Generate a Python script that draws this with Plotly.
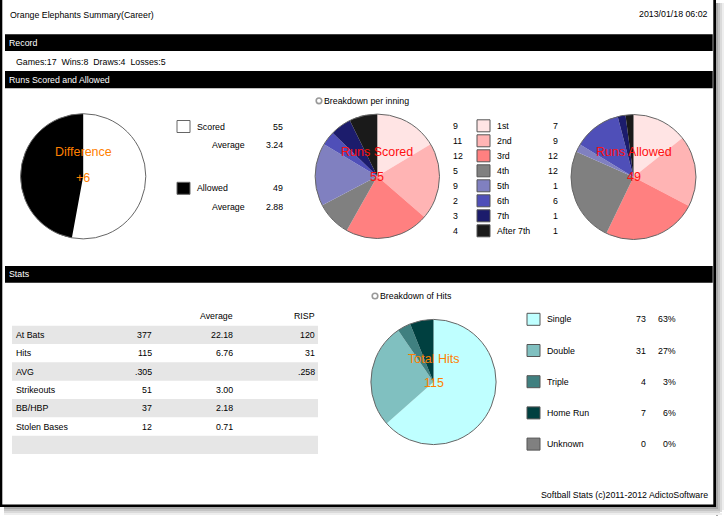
import plotly.graph_objects as go

# ---------------- data ----------------
title_text = "Orange Elephants Summary(Career)"
date_text = "2013/01/18 06:02"
footer_text = "Softball Stats (c)2011-2012 AdictoSoftware"
section_titles = ["Record", "Runs Scored and Allowed", "Stats"]

record_labels = ["Games", "Wins", "Draws", "Losses"]
record_values = [17, 8, 4, 5]

runs_labels = ["Scored", "Allowed"]
runs_totals = [55, 49]
runs_averages = ["3.24", "2.88"]
runs_colors = ["#FFFFFF", "#000000"]

innings = ["1st", "2nd", "3rd", "4th", "5th", "6th", "7th", "After 7th"]
scored_by_inning = [9, 11, 12, 5, 9, 2, 3, 4]
allowed_by_inning = [7, 9, 12, 12, 1, 6, 1, 1]
inning_colors = ["#FFE4E4", "#FFB4B4", "#FF8080", "#808080",
                 "#8080C0", "#4F4FB8", "#1C1C6C", "#1A1A1A"]

stat_names = ["At Bats", "Hits", "AVG", "Strikeouts", "BB/HBP", "Stolen Bases"]
stat_totals = ["377", "115", ".305", "51", "37", "12"]
stat_averages = ["22.18", "6.76", "", "3.00", "2.18", "0.71"]
stat_risp = ["120", "31", ".258", "", "", ""]

hit_types = ["Single", "Double", "Triple", "Home Run", "Unknown"]
hit_counts = [73, 31, 4, 7, 0]
hit_pcts = ["63%", "27%", "3%", "6%", "0%"]
hit_colors = ["#BFFFFF", "#80C0C0", "#408080", "#004040", "#808080"]

# ---------------- layout helpers ----------------
W, H = 725, 516
FONT = "Liberation Sans, Arial, Helvetica, sans-serif"
FS = 8.8
shapes = []
annots = []


def text(x, y, s, anchor="left", size=FS, color="#000000"):
    annots.append(dict(x=x, y=y, xref="x", yref="y", text=s, showarrow=False,
                       xanchor=anchor, yanchor="middle", borderpad=0,
                       font=dict(family=FONT, size=size, color=color)))


def rect(x0, y0, x1, y1, fill, line=None, lw=0, layer="below"):
    shapes.append(dict(type="rect", xref="x", yref="y", x0=x0, y0=y0, x1=x1, y1=y1,
                       fillcolor=fill, line=dict(width=lw, color=line or fill), layer=layer))


def circle(cx, cy, r, color="#555555", lw=1, fill="rgba(0,0,0,0)"):
    shapes.append(dict(type="circle", xref="x", yref="y", x0=cx - r, y0=cy - r,
                       x1=cx + r, y1=cy + r, fillcolor=fill,
                       line=dict(width=lw, color=color), layer="above"))


def dom(cx, cy, r):
    return dict(x=[(cx - r) / W, (cx + r) / W], y=[1 - (cy + r) / H, 1 - (cy - r) / H])


fig = go.Figure()

# frame + shadow
for (x0, c) in [(716, "#A8A8A8"), (718, "#C4C4C4"), (720, "#DADADA"), (722, "#EEEEEE")]:
    rect(x0, 3, x0 + 2, 516 - (x0 - 716), c)
for (y0, c) in [(507, "#A8A8A8"), (509, "#C4C4C4"), (511, "#DADADA"), (513, "#EEEEEE")]:
    rect(4, y0, 716 + (y0 - 507), y0 + 2, c)
rect(0, 0, 2.3, 507, "#000000")
rect(713.3, 0, 716, 507, "#000000")
rect(0, 504.5, 716, 507, "#000000")

# header
text(9, 15, title_text)
text(709, 14, date_text, anchor="right")

# section bars
for title, (y0, y1) in zip(section_titles, [(34.3, 51), (71, 88.3), (266, 282.7)]):
    rect(5, y0, 712.7, y1, "#000000")
    text(8, (y0 + y1) / 2, title, color="#FFFFFF")

text(15, 62.3, "\u00a0\u00a0".join(f"{l}:{v}" for l, v in zip(record_labels, record_values)))

# ---------------- Runs difference pie ----------------
fig.add_trace(go.Pie(values=runs_totals, labels=runs_labels, sort=False, direction="clockwise",
                     rotation=0, textinfo="none", hoverinfo="skip", showlegend=False,
                     marker=dict(colors=runs_colors, line=dict(width=0)),
                     domain=dom(83.2, 176.3, 62.6)))
circle(83.2, 176.3, 62.6, color="#666666", lw=1)
diff = runs_totals[0] - runs_totals[1]
text(83.3, 152.3, "Difference", anchor="center", size=12.5, color="#FF8000")
text(83.3, 177.7, f"{diff:+d}", anchor="center", size=12.5, color="#FF8000")

legend_rows = [(126.5, 145.3), (188.3, 207)]
for (ry, ay), lab, tot, avg, col in zip(legend_rows, runs_labels, runs_totals, runs_averages, runs_colors):
    rect(177, ry - 6, 190, ry + 6, col, line="#666666", lw=1)
    text(196, ry, lab)
    text(283.5, ry, str(tot), anchor="right")
    text(246, ay, "Average", anchor="right")
    text(283.5, ay, avg, anchor="right")

# ---------------- innings pies ----------------
circle(319, 100.8, 2.8, color="#999999", lw=1.6)
text(322.5, 100.8, "Breakdown per inning")

fig.add_trace(go.Pie(values=scored_by_inning, labels=innings, sort=False, direction="clockwise",
                     rotation=0, textinfo="none", hoverinfo="skip", showlegend=False,
                     marker=dict(colors=inning_colors, line=dict(width=0)),
                     domain=dom(377.3, 176.3, 62.2)))
circle(377.3, 176.3, 62.2, color="#666666", lw=1)
text(377.3, 152.3, "Runs Scored", anchor="center", size=12.5, color="#FF1010")
text(377.3, 177.4, str(sum(scored_by_inning)), anchor="center", size=12.5, color="#FF1010")

fig.add_trace(go.Pie(values=allowed_by_inning, labels=innings, sort=False, direction="clockwise",
                     rotation=0, textinfo="none", hoverinfo="skip", showlegend=False,
                     marker=dict(colors=inning_colors, line=dict(width=0)),
                     domain=dom(633.5, 177, 62.5)))
circle(633.5, 177, 62.5, color="#666666", lw=1)
text(633.5, 152.3, "Runs Allowed", anchor="center", size=12.5, color="#FF1010")
text(633.5, 177.4, str(sum(allowed_by_inning)), anchor="center", size=12.5, color="#FF1010")

for i, (inn, s, a, c) in enumerate(zip(innings, scored_by_inning, allowed_by_inning, inning_colors)):
    ry = 125.8 + i * 15
    text(451.5, ry, str(s))
    rect(477, ry - 6, 490, ry + 6, c, line="#555555", lw=1)
    text(496, ry, inn)
    text(558.5, ry, str(a), anchor="right")

# ---------------- stats table ----------------
text(233.5, 315.7, "Average", anchor="right")
text(315.5, 315.7, "RISP", anchor="right")
row_h = 18.33
n_rows = len(stat_names) + 1
for i in range(n_rows):
    y0 = 325.7 + i * row_h
    if i % 2 == 0:
        rect(12, y0, 318, y0 + row_h, "#E6E6E6")
for i, (nm, tt, av, rp) in enumerate(zip(stat_names, stat_totals, stat_averages, stat_risp)):
    yc = 325.7 + i * row_h + row_h / 2
    text(15, yc, nm)
    text(152.5, yc, tt, anchor="right")
    text(233.5, yc, av, anchor="right")
    text(315.5, yc, rp, anchor="right")

# ---------------- hits pie ----------------
circle(375, 296, 2.8, color="#999999", lw=1.6)
text(378.5, 296, "Breakdown of Hits")

fig.add_trace(go.Pie(values=hit_counts, labels=hit_types, sort=False, direction="clockwise",
                     rotation=0, textinfo="none", hoverinfo="skip", showlegend=False,
                     marker=dict(colors=hit_colors, line=dict(width=0)),
                     domain=dom(433.5, 382, 62.6)))
circle(433.5, 382, 62.6, color="#666666", lw=1)
text(433.5, 358.5, "Total Hits", anchor="center", size=12.5, color="#FF8000")
text(433.5, 383.4, str(sum(hit_counts)), anchor="center", size=12.5, color="#FF8000")

for i, (ht, hc, hp, col) in enumerate(zip(hit_types, hit_counts, hit_pcts, hit_colors)):
    ry = 319.3 + i * 31.2
    rect(527, ry - 6, 540, ry + 6, col, line="#555555", lw=1)
    text(546, ry, ht)
    text(646.5, ry, str(hc), anchor="right")
    text(677, ry, hp, anchor="right")

text(708.5, 495, footer_text, anchor="right")

fig.update_layout(
    width=W, height=H, margin=dict(l=0, r=0, t=0, b=0),
    paper_bgcolor="#FFFFFF", plot_bgcolor="rgba(0,0,0,0)",
    xaxis=dict(range=[0, W], visible=False, fixedrange=True, domain=[0, 1]),
    yaxis=dict(range=[H, 0], visible=False, fixedrange=True, domain=[0, 1]),
    shapes=shapes, annotations=annots, showlegend=False,
)
fig.write_html("out.html")
